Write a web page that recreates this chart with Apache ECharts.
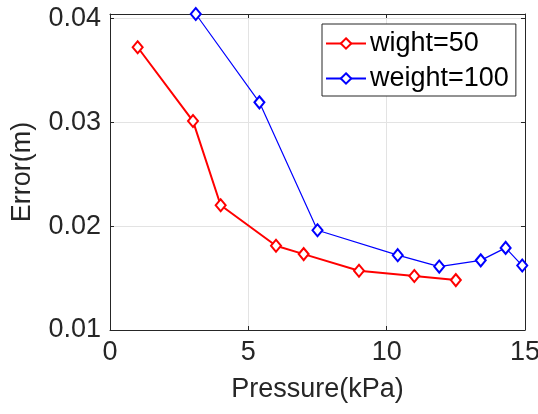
<!DOCTYPE html>
<html>
<head>
<meta charset="utf-8">
<script src="https://cdn.jsdelivr.net/npm/echarts@6/dist/echarts.min.js"></script>
<style>
  html, body { margin: 0; padding: 0; background: #fff; }
  #chart { width: 538px; height: 414px; }
</style>
</head>
<body>
<div id="chart"></div>
<script>
// Pressure (kPa) vs. positioning error (m) for two weights
const pressure50 = [1, 3, 4, 6, 7, 9, 11, 12.5];
const error50 = [0.0372, 0.0301, 0.0220, 0.0181, 0.0173, 0.0157, 0.0152, 0.0148];
const pressure100 = [3.1, 5.4, 7.5, 10.4, 11.9, 13.4, 14.3, 14.9];
const error100 = [0.0404, 0.0319, 0.0196, 0.0172, 0.0161, 0.0167, 0.0179, 0.0162];
const seriesNames = ['wight=50', 'weight=100'];
const xTitle = 'Pressure(kPa)';
const yTitle = 'Error(m)';

const FONT = '"Liberation Sans", Arial, Helvetica, sans-serif';
const FS = 27;
const AXIS_COLOR = '#262626';
const GRID_COLOR = '#e3e3e3';

const pairs = (xs, ys) => xs.map((x, i) => [x, ys[i]]);

const baseAxis = {
  axisLine: { show: true, onZero: false, lineStyle: { color: AXIS_COLOR, width: 1 } },
  axisTick: { show: true, inside: true, length: 4, lineStyle: { color: AXIS_COLOR, width: 1 } },
};

const chart = echarts.init(document.getElementById('chart'), null, { renderer: 'canvas' });
chart.setOption({
  animation: false,
  backgroundColor: '#fff',
  grid: { left: 110, right: 13, top: 14, bottom: 84, containLabel: false, outerBoundsMode: 'none' },
  xAxis: [
    Object.assign({}, baseAxis, {
      type: 'value', min: 0, max: 15, interval: 5, position: 'bottom',
      name: xTitle, nameLocation: 'middle', nameGap: 46,
      nameTextStyle: { fontFamily: FONT, fontSize: FS, color: AXIS_COLOR },
      axisLabel: { fontFamily: FONT, fontSize: FS, color: AXIS_COLOR, margin: 9 },
      splitLine: { show: true, lineStyle: { color: GRID_COLOR, width: 1 } }
    }),
    Object.assign({}, baseAxis, {
      type: 'value', min: 0, max: 15, interval: 5, position: 'top',
      axisLabel: { show: false }, splitLine: { show: false }
    })
  ],
  yAxis: [
    Object.assign({}, baseAxis, {
      type: 'value', min: 0.01, max: 0.0404, interval: 0.01, position: 'left',
      name: yTitle, nameLocation: 'middle', nameGap: 74,
      nameTextStyle: { fontFamily: FONT, fontSize: FS, color: AXIS_COLOR },
      axisLabel: {
        fontFamily: FONT, fontSize: FS, color: AXIS_COLOR, margin: 9,
        showMaxLabel: false, formatter: v => v.toFixed(2)
      },
      splitLine: { show: true, lineStyle: { color: GRID_COLOR, width: 1 } }
    }),
    Object.assign({}, baseAxis, {
      type: 'value', min: 0.01, max: 0.0404, interval: 0.01, position: 'right',
      axisLabel: { show: false }, splitLine: { show: false }
    })
  ],
  legend: {
    data: seriesNames,
    orient: 'vertical',
    left: 322, top: 24,
    padding: [4, 7, 2, 3],
    itemGap: 4,
    itemWidth: 40, itemHeight: 13,
    backgroundColor: '#fff',
    borderColor: AXIS_COLOR, borderWidth: 1, borderRadius: 0,
    textStyle: { fontFamily: FONT, fontSize: FS, color: '#000', lineHeight: 31, padding: [0, 0, 0, -1] }
  },
  series: [
    {
      name: seriesNames[0], type: 'line', data: pairs(pressure50, error50),
      symbol: 'emptyDiamond', symbolSize: [10, 12],
      lineStyle: { color: '#ff0000', width: 2 },
      itemStyle: { color: '#ff0000', borderWidth: 2 },
      z: 3
    },
    {
      name: seriesNames[1], type: 'line', data: pairs(pressure100, error100),
      symbol: 'emptyDiamond', symbolSize: [10, 12],
      lineStyle: { color: '#0000ff', width: 1.2 },
      itemStyle: { color: '#0000ff', borderWidth: 1.3 },
      z: 2
    }
  ]
});
</script>
</body>
</html>
